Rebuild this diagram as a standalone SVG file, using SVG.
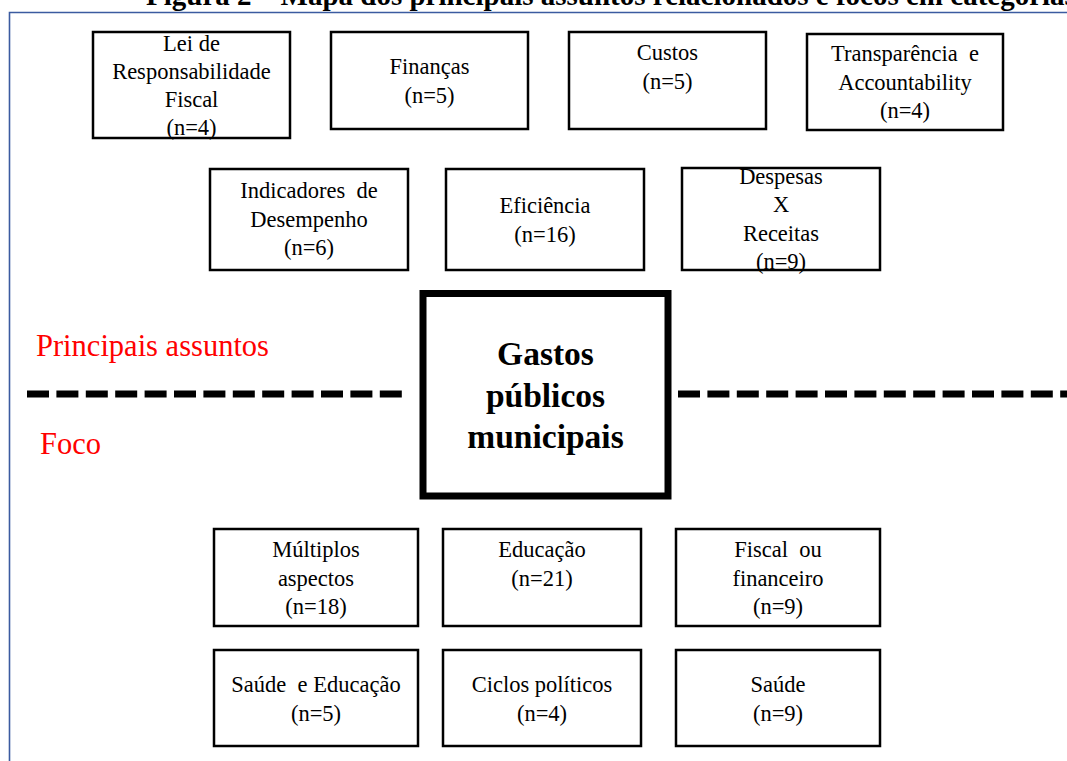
<svg xmlns="http://www.w3.org/2000/svg" width="1067" height="761" viewBox="0 0 1067 761">
<style>
.box{fill:#fff;stroke:#000;stroke-width:2.5}
.t{font-family:"Liberation Serif","Times New Roman",serif;font-size:22.5px;fill:#000;text-anchor:middle}
.c{font-family:"Liberation Serif","Times New Roman",serif;font-size:33.5px;font-weight:bold;fill:#000;text-anchor:middle}
.red{font-family:"Liberation Serif","Times New Roman",serif;font-size:30.5px;fill:#f00}
.dash{stroke:#000;stroke-width:7;stroke-dasharray:22 7.4;fill:none}
</style>
<rect width="1067" height="761" fill="#fff"/>
<text x="146" y="5" font-family="'Liberation Serif','Times New Roman',serif" font-size="29" font-weight="bold" fill="#000">Figura 2 – Mapa dos principais assuntos relacionados e focos em categorias</text>
<path d="M9.5,761 V12.5 H1067" fill="none" stroke="#3B5BA0" stroke-width="1.6"/>

<g id="connectors">
<line class="dash" x1="27" y1="394" x2="402" y2="394"/>
<line class="dash" x1="678" y1="394" x2="1067" y2="394"/>
</g>

<text class="red" x="36" y="356">Principais assuntos</text>
<text class="red" x="40" y="454">Foco</text>

<g id="center">
<rect x="423" y="293.5" width="245" height="202.5" fill="#fff" stroke="#000" stroke-width="7"/>
<text class="c" x="545.5" y="365">Gastos</text>
<text class="c" x="545.5" y="406.5">públicos</text>
<text class="c" x="545.5" y="448">municipais</text>
</g>

<g id="n1">
<rect class="box" x="93" y="32" width="197" height="106"/>
<text class="t" x="191.5" y="51">Lei de</text>
<text class="t" x="191.5" y="79">Responsabilidade</text>
<text class="t" x="191.5" y="107">Fiscal</text>
<text class="t" x="191.5" y="135">(n=4)</text>
</g>
<g id="n2">
<rect class="box" x="331" y="32" width="197" height="97"/>
<text class="t" x="429.5" y="74">Finanças</text>
<text class="t" x="429.5" y="103">(n=5)</text>
</g>
<g id="n3">
<rect class="box" x="569" y="32" width="197" height="97"/>
<text class="t" x="667.5" y="60">Custos</text>
<text class="t" x="667.5" y="89">(n=5)</text>
</g>
<g id="n4">
<rect class="box" x="807" y="34" width="196" height="96"/>
<text class="t" x="905" y="61" xml:space="preserve">Transparência  e</text>
<text class="t" x="905" y="90">Accountability</text>
<text class="t" x="905" y="118">(n=4)</text>
</g>

<g id="n5">
<rect class="box" x="210" y="169" width="198" height="101"/>
<text class="t" x="309" y="198" xml:space="preserve">Indicadores  de</text>
<text class="t" x="309" y="227">Desempenho</text>
<text class="t" x="309" y="255">(n=6)</text>
</g>
<g id="n6">
<rect class="box" x="446" y="169" width="198" height="101"/>
<text class="t" x="545" y="213">Eficiência</text>
<text class="t" x="545" y="242">(n=16)</text>
</g>
<g id="n7">
<rect class="box" x="682" y="168" width="198" height="102"/>
<text class="t" x="781" y="184">Despesas</text>
<text class="t" x="781" y="212">X</text>
<text class="t" x="781" y="241">Receitas</text>
<text class="t" x="781" y="269">(n=9)</text>
</g>

<g id="n8">
<rect class="box" x="214" y="529" width="204" height="97"/>
<text class="t" x="316" y="557">Múltiplos</text>
<text class="t" x="316" y="586">aspectos</text>
<text class="t" x="316" y="614">(n=18)</text>
</g>
<g id="n9">
<rect class="box" x="443" y="529" width="198" height="97"/>
<text class="t" x="542" y="557">Educação</text>
<text class="t" x="542" y="586">(n=21)</text>
</g>
<g id="n10">
<rect class="box" x="676" y="529" width="204" height="97"/>
<text class="t" x="778" y="557" xml:space="preserve">Fiscal  ou</text>
<text class="t" x="778" y="586">financeiro</text>
<text class="t" x="778" y="614">(n=9)</text>
</g>

<g id="n11">
<rect class="box" x="214" y="650" width="204" height="96"/>
<text class="t" x="316" y="692" xml:space="preserve">Saúde  e Educação</text>
<text class="t" x="316" y="721">(n=5)</text>
</g>
<g id="n12">
<rect class="box" x="443" y="650" width="198" height="96"/>
<text class="t" x="542" y="692">Ciclos políticos</text>
<text class="t" x="542" y="721">(n=4)</text>
</g>
<g id="n13">
<rect class="box" x="676" y="650" width="204" height="96"/>
<text class="t" x="778" y="692">Saúde</text>
<text class="t" x="778" y="721">(n=9)</text>
</g>
</svg>
